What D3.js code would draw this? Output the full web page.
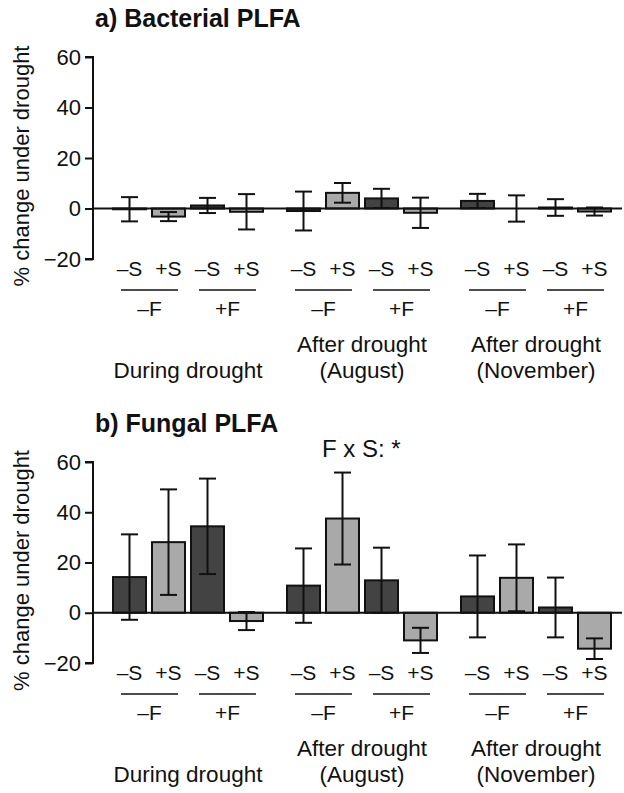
<!DOCTYPE html>
<html>
<head>
<meta charset="utf-8">
<script src="https://cdn.jsdelivr.net/npm/d3@7"></script>
<style>
  html, body { margin: 0; padding: 0; background: #fff; }
  svg { display: block; font-family: "Liberation Sans", Arial, Helvetica, sans-serif; }
</style>
</head>
<body>
<svg id="chart" width="624" height="793"></svg>
<script>
// ---- Data ----
const periods = ["During drought", "After drought|(August)", "After drought|(November)"];
const fLabels = ["\u2013F", "+F"];
const sLabels = ["\u2013S", "+S"];
const yTicks = [-20, 0, 20, 40, 60];

// order per period: (-F,-S), (-F,+S), (+F,-S), (+F,+S)
const bacterialMean = [-0.3, -3.2, 1.2, -1.3, -1.0, 6.2, 4.0, -1.7, 3.0, 0.0, 0.4, -1.2];
const bacterialErr  = [4.8, 1.8, 3.0, 7.0, 7.7, 3.9, 3.8, 6.0, 2.8, 5.2, 3.3, 1.6];
const fungalMean    = [14.2, 28.1, 34.4, -3.3, 10.8, 37.5, 12.9, -11.0, 6.5, 13.9, 2.1, -14.3];
const fungalErr     = [17.0, 21.0, 19.0, 3.6, 14.8, 18.3, 13.0, 5.0, 16.3, 13.3, 11.9, 4.1];

const panels = [
  { title: "a) Bacterial PLFA", mean: bacterialMean, err: bacterialErr, top: 57, bottom: 259, note: null },
  { title: "b) Fungal PLFA", mean: fungalMean, err: fungalErr, top: 462, bottom: 663, note: "F x S: *" }
];

const colors = { dark: "#434343", light: "#a9a9a9", ink: "#111" };

const svg = d3.select("#chart");
const axisX = 93;

const xOuter = d3.scaleBand().domain(periods).range([113, 611]).paddingInner(24 / 174).paddingOuter(0);
const xInner = d3.scaleBand().domain([0, 1, 2, 3]).range([0, xOuter.bandwidth()]).paddingInner(6 / 39).paddingOuter(0);

panels.forEach(p => {
  const y = d3.scaleLinear().domain([-20, 60]).range([p.bottom, p.top]);
  const g = svg.append("g");

  // title
  g.append("text").attr("x", 95).attr("y", p.top - 30)
    .attr("font-size", 25).attr("font-weight", "bold").attr("fill", colors.ink)
    .text(p.title);

  // y axis label
  g.append("text")
    .attr("transform", `translate(29,${(p.top + p.bottom) / 2 + 8}) rotate(-90)`)
    .attr("text-anchor", "middle").attr("font-size", 22).attr("fill", colors.ink)
    .text("% change under drought");

  // y axis
  const ax = g.append("g").attr("transform", `translate(${axisX},0)`)
    .call(d3.axisLeft(y).tickValues(yTicks).tickSize(8).tickPadding(4).tickFormat(d => d < 0 ? "\u2212" + Math.abs(d) : d));
  ax.select(".domain").attr("stroke", colors.ink).attr("stroke-width", 2)
    .attr("d", `M-8,${y(60)}H0V${y(-20)}H-8`);
  ax.selectAll(".tick line").attr("stroke", colors.ink).attr("stroke-width", 2);
  ax.selectAll(".tick text").attr("font-size", 22).attr("fill", colors.ink)
    .attr("font-family", "'Liberation Sans', Arial, sans-serif");

  // data records
  const rows = p.mean.map((m, i) => ({
    period: periods[Math.floor(i / 4)], j: i % 4, mean: m, err: p.err[i]
  }));

  // bars
  g.selectAll("rect.bar").data(rows).join("rect")
    .attr("class", "bar")
    .attr("x", d => xOuter(d.period) + xInner(d.j))
    .attr("width", xInner.bandwidth())
    .attr("y", d => y(Math.max(0, d.mean)))
    .attr("height", d => Math.abs(y(d.mean) - y(0)))
    .attr("fill", d => d.j % 2 === 0 ? colors.dark : colors.light)
    .attr("stroke", colors.ink).attr("stroke-width", 2);

  // zero line
  g.append("line").attr("x1", axisX).attr("x2", 622).attr("y1", y(0)).attr("y2", y(0))
    .attr("stroke", colors.ink).attr("stroke-width", 2);

  // error bars
  const eb = g.selectAll("g.err").data(rows).join("g").attr("class", "err")
    .attr("transform", d => `translate(${xOuter(d.period) + xInner(d.j) + xInner.bandwidth() / 2},0)`);
  eb.append("line").attr("y1", d => y(d.mean - d.err)).attr("y2", d => y(d.mean + d.err))
    .attr("stroke", colors.ink).attr("stroke-width", 2);
  eb.append("line").attr("x1", -8.5).attr("x2", 8.5).attr("y1", d => y(d.mean + d.err)).attr("y2", d => y(d.mean + d.err))
    .attr("stroke", colors.ink).attr("stroke-width", 2);
  eb.append("line").attr("x1", -8.5).attr("x2", 8.5).attr("y1", d => y(d.mean - d.err)).attr("y2", d => y(d.mean - d.err))
    .attr("stroke", colors.ink).attr("stroke-width", 2);

  // category labels
  const b = p.bottom;
  periods.forEach(per => {
    const x0 = xOuter(per);
    [0, 1, 2, 3].forEach(j => {
      g.append("text").attr("x", x0 + xInner(j) + xInner.bandwidth() / 2).attr("y", b + 17)
        .attr("text-anchor", "middle").attr("font-size", 21).attr("fill", colors.ink)
        .text(sLabels[j % 2]);
    });
    [0, 1].forEach(k => {
      const xa = x0 + xInner(2 * k) + 8;
      const xb = x0 + xInner(2 * k + 1) + xInner.bandwidth() - 7;
      g.append("line").attr("x1", xa).attr("x2", xb).attr("y1", b + 31).attr("y2", b + 31)
        .attr("stroke", colors.ink).attr("stroke-width", 1.5);
      g.append("text").attr("x", (xa + xb) / 2).attr("y", b + 57)
        .attr("text-anchor", "middle").attr("font-size", 21).attr("fill", colors.ink)
        .text(fLabels[k]);
    });
    const lines = per.split("|");
    const cx = x0 + xOuter.bandwidth() / 2;
    lines.forEach((t, li) => {
      g.append("text").attr("x", cx).attr("y", b + 119 - (lines.length - 1 - li) * 26)
        .attr("text-anchor", "middle").attr("font-size", 22.5).attr("fill", colors.ink)
        .text(t);
    });
  });

  if (p.note) {
    g.append("text").attr("x", 322).attr("y", p.top - 5)
      .attr("font-size", 24).attr("fill", colors.ink).text(p.note);
  }
});
</script>
</body>
</html>
